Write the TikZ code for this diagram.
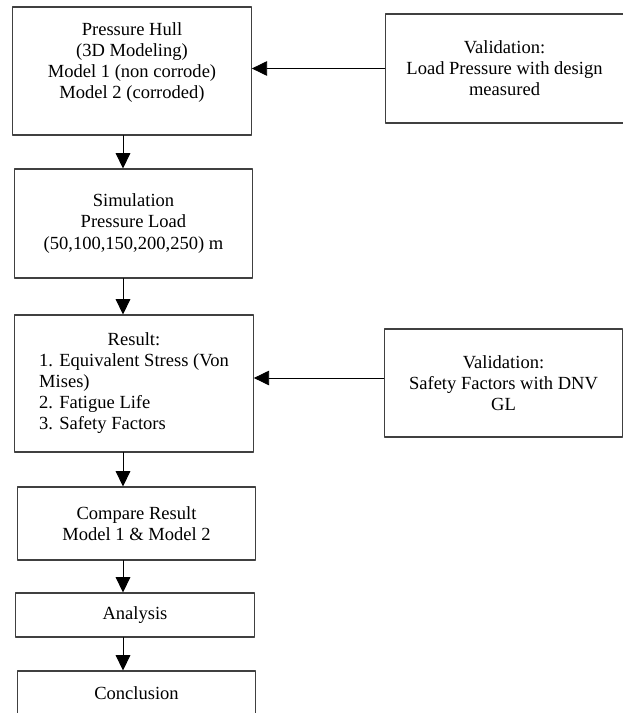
\documentclass[tikz,border=0pt]{standalone}
\usepackage{fontspec}
\setmainfont{Liberation Serif}
\usetikzlibrary{arrows.meta,calc}
\tikzstyle{every node}=[font=\fontsize{13.9}{15.8}\selectfont]
\tikzstyle{every path}=[line width=0.8pt,line cap=round,line join=round]
\tikzset{box/.style={draw=black!75,rectangle,align=center,inner sep=0pt,minimum width=179pt},
arr/.style={-{Triangle[length=11.5pt,width=11pt]},line width=0.7pt}}

\begin{document}
\begin{tikzpicture}[x=0.75pt,y=-0.75pt]
\useasboundingbox (0,0) rectangle (622,713);

% main column
\node[box,minimum height=96pt] (hull) at (132,71)
{Pressure Hull\\(3D Modeling)\\Model 1 (non corrode)\\Model 2 (corroded)\\ \mbox{}};
\node[box,minimum height=81.75pt] (sim) at (133.5,223.5)
{Simulation\\Pressure Load\\(50,100,150,200,250) m};
\node[box,minimum height=102.75pt] (result) at (134,383.5)
{\begin{tabular}{@{}l@{}}
\multicolumn{1}{@{}c@{}}{Result:}\\
1. Equivalent Stress (Von\\
Mises)\\
2. Fatigue Life\\
3. Safety Factors
\end{tabular}};
\node[box,minimum height=54.75pt] (compare) at (136.5,523.5)
{Compare Result\\Model 1 \& Model 2};
\node[box,minimum height=33pt] (analysis) at (135,615) {Analysis};
\node[box,minimum height=33pt] (concl) at (136.5,693) {Conclusion};

% validation boxes
\node[box,minimum height=81.75pt] (valload) at (504.5,68.5)
{Validation:\\Load Pressure with design\\measured};
\node[box,minimum height=81pt] (valsafe) at (503.5,383)
{Validation:\\Safety Factors with DNV\\GL};

% arrows
\coordinate (ax) at (123,0);
\coordinate (ay) at (0,378);
\draw[arr] (hull.south -| ax) -- (sim.north -| ax);
\draw[arr] (sim.south -| ax) -- (result.north -| ax);
\draw[arr] (result.south -| ax) -- (compare.north -| ax);
\draw[arr] (compare.south -| ax) -- (analysis.north -| ax);
\draw[arr] (analysis.south -| ax) -- (concl.north -| ax);
\draw[arr] (valload.west) -- (valload.west -| hull.east);
\draw[arr] (valsafe.west |- ay) -- (result.east |- ay);
\end{tikzpicture}
\end{document}
